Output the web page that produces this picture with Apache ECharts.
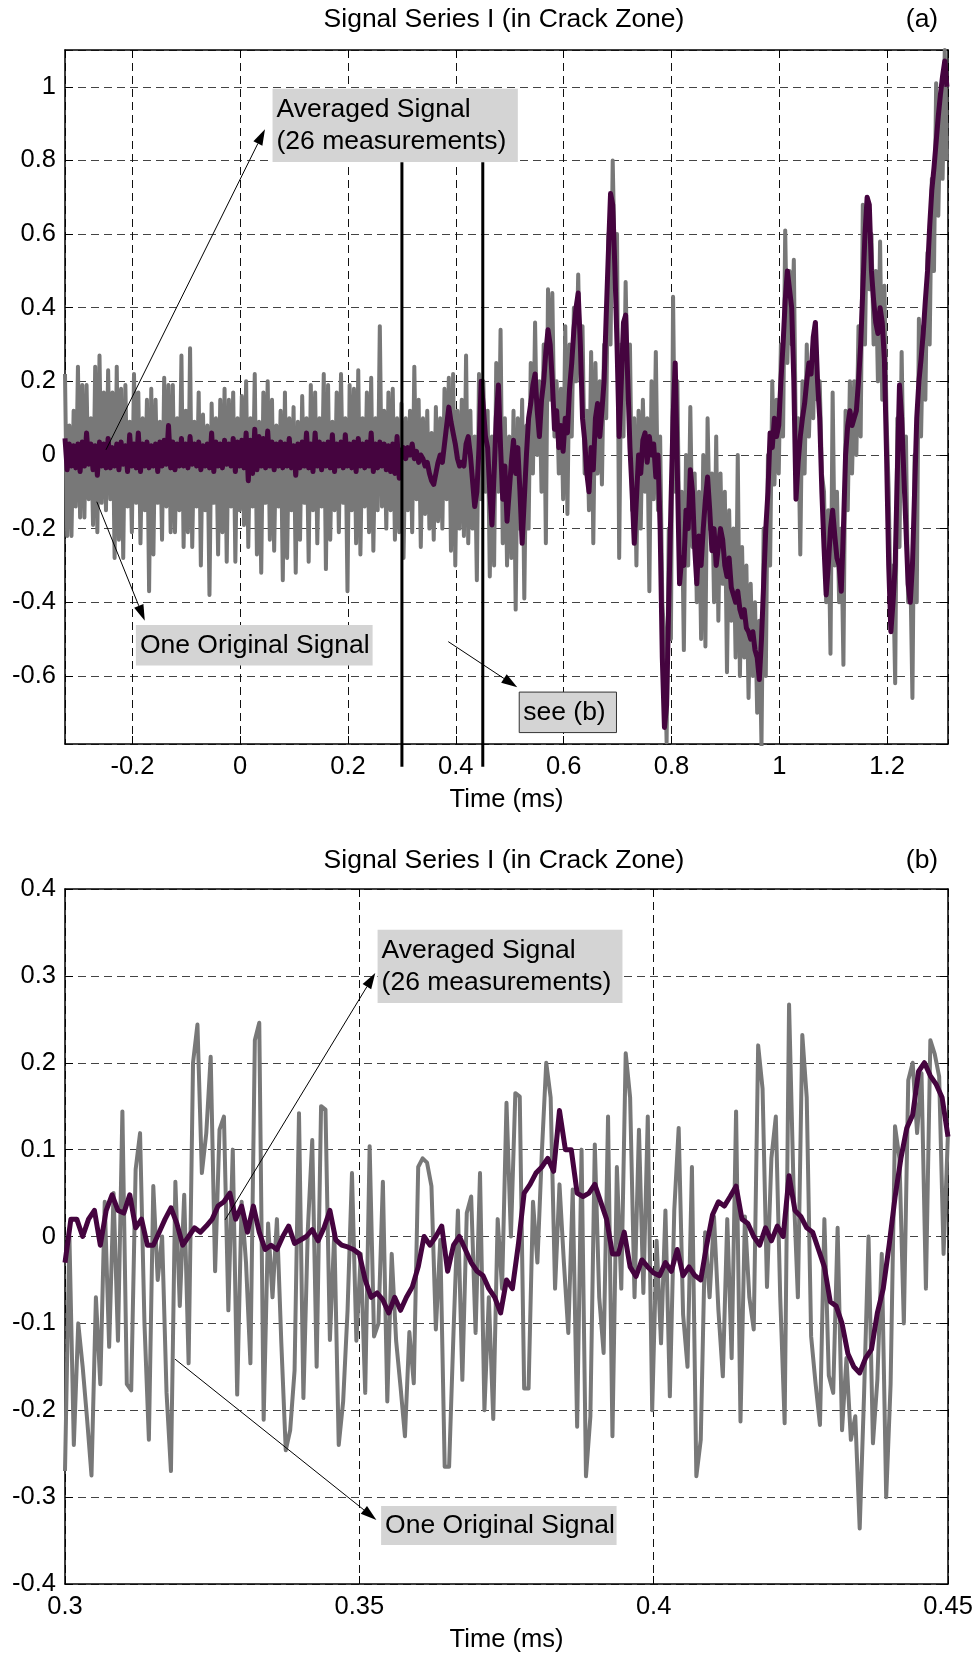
<!DOCTYPE html>
<html>
<head>
<meta charset="utf-8">
<title>Signal Series I (in Crack Zone)</title>
<script src="https://cdn.jsdelivr.net/npm/echarts@6/dist/echarts.min.js"></script>
<style>
html, body { margin: 0; padding: 0; background: #fff; }
#main { width: 980px; height: 1655px; }
</style>
</head>
<body>
<div id="main"></div>
<script>
var FONT = 'Liberation Sans, Arial, sans-serif';

// (a) whole record, one sample every 0.004 ms from -0.325 ms
var startA = -0.325, stepA = 0.004;
var grayA = [
  // -0.325 .. 0.295 (noise before the crack zone)
  .22,-.22, .08,-.22, .12,-.14, .24,-.17, .19,-.17, .19,-.12, .1,-.19, .24,-.21, .27,-.13, .17,-.15,
  .23,-.12, .17,-.28, .24,-.23, .18,-.28, .19,-.14, .09,-.21, .22,-.13, .17,-.24, .1,-.15, .15,-.37,
  .18,-.27, .15,-.13, .09,-.23, .21,-.14, .19,-.21, .19,-.21, .1,-.15, .27,-.25, .12,-.21, .29,-.25,
  .09,-.14, .17,-.3, .11,-.15, .08,-.38, .14,-.13, .1,-.27, .15,-.21, .18,-.29, .15,-.14, .17,-.29,
  .1,-.15, .16,-.19, .2,-.25, .1,-.14, .22,-.27, .09,-.32, .17,-.13, .2,-.23, .15,-.26, .08,-.14,
  .12,-.34, .17,-.28, .1,-.15, .13,-.32, .09,-.23, .16,-.13, .1,-.29, .19,-.15, .17,-.24, .1,-.14,
  .22,-.31, .19,-.23, .09,-.15, .17,-.21, .22,-.13, .1,-.37, .19,-.15, .18,-.24, .23,-.27, .1,-.14,
  .17,-.21, .21,-.26, .1,-.15, .35,-.14, .12,-.2, .17,-.15, .18,-.23, .1,-.21,
  // 0.299 .. 1.311
  0.14,-0.28, 0.1,-0.15, 0.12,-0.21, 0.24,-0.12, 0.15,-0.25,
  0.1,-0.16, 0.12,-0.2, 0.06,-0.23, 0.13,-0.18, 0.1,-0.2,
  0.18,-0.12, 0.21,-0.26, 0.22,-0.3, 0.12,-0.2, 0.15,-0.22,
  0.27,-0.24, 0.12,-0.2, 0.05,-0.34, 0.22,-0.12, 0.2,-0.1,
  0.12,-0.33, 0.05,-0.3, 0.25,-0.1, 0.34,-0.24, 0.1,-0.3,
  0.05,-0.28, 0.12,-0.42, 0.1,-0.2, 0.15,-0.39, 0.08,-0.2,
  0.25,-0.05, 0.36,0.0, 0.2,-0.1, 0.3,-0.24, 0.45,0.15,
  0.44,0.05, 0.2,-0.05, 0.18,-0.12, 0.35,-0.16, 0.3,0.05,
  0.4,0.2, 0.49,0.2, 0.35,-0.05, 0.12,-0.15, 0.28,-0.24,
  0.25,-0.05, 0.2,-0.08, 0.3,0.1, 0.6,0.3, 0.8,0.5,
  0.6,-0.28, 0.3,0.05, 0.47,0.15, 0.3,-0.15, 0.1,-0.3,
  0.12,-0.2, 0.15,-0.1, 0.1,-0.37, 0.2,-0.12, 0.28,-0.15,
  0.05,-0.4, -0.5,-0.78, -0.2,-0.5, 0.43,-0.1, 0.2,-0.3,
  -0.1,-0.53, 0.0,-0.3, 0.13,-0.25, -0.05,-0.4, -0.1,-0.5,
  0.0,-0.52, 0.1,-0.2, -0.05,-0.4, 0.05,-0.45, -0.05,-0.35,
  -0.1,-0.59, -0.15,-0.45, -0.2,-0.55, 0.0,-0.6, -0.25,-0.55,
  -0.3,-0.66, -0.35,-0.6, -0.4,-0.7, -0.45,-0.79, -0.2,-0.6,
  0.0,-0.3, 0.2,-0.08, 0.15,-0.05, 0.3,0.05, 0.61,0.25,
  0.5,0.3, 0.53,0.0, 0.1,-0.27, 0.2,-0.05, 0.3,0.05,
  0.25,0.1, 0.36,0.15, 0.2,-0.05, -0.1,-0.4, -0.15,-0.54,
  0.17,-0.3, -0.1,-0.4, -0.2,-0.57, 0.12,-0.15, 0.2,-0.05,
  0.2,0.0, 0.35,0.05, 0.68,0.3, 0.7,0.45, 0.6,0.3,
  0.5,0.2, 0.58,0.15, 0.46,0.1, -0.1,-0.45, -0.3,-0.62,
  0.1,-0.25, 0.28,-0.1, 0.05,-0.4, -0.3,-0.66, 0.0,-0.4,
  0.37,0.05, 0.35,0.15, 0.55,0.3, 0.75,0.5, 1.01,0.65,
  0.95,0.75, 1.1,0.8
];
var purpleA = [
  .045,-.04, .03,-.03, .025,-.035, .03,-.045, .035,-.03, .06,-.025, .03,-.04, .025,-.055, .035,-.03, .03,-.035,
  .045,-.035, .02,-.03, .03,-.04, .035,-.025, .025,-.045, .055,-.03, .03,-.035, .06,-.045, .03,-.03, .035,-.035,
  .025,-.03, .03,-.045, .035,-.03, .04,-.025, .08,-.035, .035,-.04, .03,-.03, .045,-.03, .03,-.035, .05,-.025,
  .03,-.03, .035,-.04, .025,-.03, .03,-.035, .06,-.045, .035,-.03, .03,-.035, .04,-.025, .03,-.03, .045,-.045,
  .035,-.03, .04,-.035, .06,-.07, .04,-.05, .07,-.04, .05,-.03, .045,-.035, .065,-.03, .035,-.04, .03,-.03,
  .035,-.035, .03,-.03, .045,-.035, .025,-.055, .03,-.035, .035,-.03, .06,-.035, .03,-.045, .06,-.03, .035,-.04,
  .03,-.03, .035,-.035, .055,-.045, .03,-.03, .035,-.035, .055,-.03, .03,-.035, .035,-.045, .045,-.03, .03,-.035,
  .035,-.03, .06,-.045, .03,-.035, .035,-.03, .03,-.04, .025,-.045, .03,-.05, .05,-.063,
  0.01, 0.02, -0.01, 0.02, 0.0, 0.03, -0.01, 0.01, -0.02, 0.0,
  -0.01, -0.03, -0.02, -0.05, -0.07, -0.08, -0.05, -0.02, 0.0, -0.02,
  0.03, 0.08, 0.13, 0.09, 0.06, 0.03, -0.01, -0.03, -0.02, -0.03,
  0.03, 0.05, 0.0, -0.07, -0.14, -0.1, 0.02, 0.2, 0.13, 0.05,
  0.02, -0.1, -0.19, -0.05, 0.1, 0.19, 0.02, -0.12, -0.03, -0.18,
  -0.1, -0.02, 0.04, -0.05, 0.02, -0.1, -0.24, -0.12, 0.0, 0.1,
  0.14, 0.19, 0.22, 0.12, 0.05, 0.15, 0.2, 0.28, 0.34, 0.3,
  0.2, 0.07, 0.12, 0.02, 0.08, 0.01, 0.1, 0.06, 0.18, 0.25,
  0.34, 0.4, 0.44, 0.3, 0.1, 0.04, -0.05, -0.1, 0.02, -0.04,
  0.1, 0.14, 0.05, 0.12, 0.2, 0.38, 0.55, 0.71, 0.68, 0.51,
  0.3, 0.05, 0.2, 0.36, 0.38, 0.2, 0.02, -0.1, -0.24, -0.12,
  0.0, -0.05, 0.04, 0.06, -0.02, 0.05, 0.0, 0.03, -0.06, 0.0,
  -0.2, -0.55, -0.74, -0.68, -0.4, -0.14, 0.1, 0.25, -0.05, -0.35,
  -0.28, -0.3, -0.15, -0.2, -0.04, -0.1, -0.25, -0.35, -0.22, -0.3,
  -0.2, -0.12, -0.06, -0.15, -0.26, -0.2, -0.3, -0.25, -0.2, -0.23,
  -0.3, -0.33, -0.28, -0.36, -0.38, -0.4, -0.37, -0.42, -0.44, -0.42,
  -0.47, -0.48, -0.5, -0.48, -0.53, -0.55, -0.61, -0.5, -0.35, -0.2,
  -0.1, 0.06, 0.02, 0.1, 0.05, 0.08, 0.2, 0.3, 0.42, 0.5,
  0.45, 0.4, 0.2, -0.12, -0.02, 0.05, 0.1, 0.14, 0.2, 0.25,
  0.22, 0.32, 0.36, 0.2, 0.1, -0.1, -0.25, -0.38, -0.3, -0.2,
  -0.15, -0.22, -0.28, -0.3, -0.37, -0.2, 0.0, 0.08, 0.12, 0.08,
  0.1, 0.12, 0.2, 0.3, 0.45, 0.6, 0.7, 0.68, 0.5, 0.42,
  0.36, 0.33, 0.4, 0.36, 0.26, 0.0, -0.3, -0.48, -0.4, -0.3,
  -0.05, 0.19, 0.1, -0.05, -0.2, -0.35, -0.4, -0.3, -0.1, 0.1,
  0.2, 0.26, 0.33, 0.42, 0.5, 0.62, 0.72, 0.78, 0.85, 0.92,
  0.98, 1.03, 1.07, 1.0
];

// (b) window 0.3 .. 0.45 ms
var startB = 0.3, stepGrayB = 0.00075, stepPurpleB = 0.001;
var grayB = [
  -0.27, 0.0, -0.24, -0.1, -0.15, -0.21, -0.275, -0.07, -0.17, 0.04,
  -0.127, 0.05, -0.12, 0.144, -0.17, -0.177, 0.077, 0.119, -0.1, -0.234,
  0.058, -0.05, 0.0, -0.18, -0.27, 0.063, -0.08, 0.048, -0.146, 0.2,
  0.244, 0.073, 0.119, 0.207, -0.04, 0.123, 0.138, -0.085, 0.1, -0.182,
  0.04, -0.03, -0.146, 0.226, 0.246, -0.211, 0.015, -0.07, 0.02, -0.123,
  -0.246, -0.223, -0.154, 0.142, -0.186, 0.008, 0.111, -0.15, 0.15, 0.146,
  -0.119, 0.005, -0.24, -0.19, -0.085, 0.073, -0.12, -0.02, -0.18, 0.104,
  -0.115, -0.1, 0.063, -0.19, -0.02, -0.12, -0.173, -0.23, -0.11, -0.169,
  0.08, 0.09, 0.085, 0.058, -0.107, -0.004, -0.265, -0.265, -0.11, 0.03,
  -0.165, 0.027, 0.046, -0.111, 0.073, -0.2, -0.07, -0.21, 0.02, -0.06,
  0.154, 0.0, 0.165, 0.161, -0.175, -0.175, 0.04, -0.03, 0.096, 0.2,
  0.16, -0.06, 0.06, -0.03, -0.111, 0.054, -0.219, 0.1, -0.276, -0.207,
  0.106, -0.07, -0.134, 0.138, -0.23, 0.08, -0.06, 0.211, 0.16, -0.07,
  0.123, -0.065, 0.138, -0.2, -0.005, -0.123, 0.03, -0.184, 0.03, 0.125,
  -0.09, -0.15, 0.08, -0.276, -0.234, 0.005, -0.07, 0.023, -0.085, -0.161,
  0.02, -0.14, 0.144, -0.213, 0.023, -0.07, -0.107, 0.22, 0.17, -0.058,
  0.09, 0.138, -0.07, -0.215, 0.267, 0.06, -0.07, 0.232, 0.16, -0.115,
  -0.169, -0.217, 0.02, -0.16, -0.18, 0.01, -0.223, -0.14, -0.234, -0.207,
  -0.336, -0.18, 0.0, -0.238, -0.165, -0.02, -0.3, -0.17, 0.127, 0.09,
  -0.1, 0.18, 0.2, 0.119, 0.188, -0.06, 0.226, 0.21, 0.184, -0.02,
  0.12
];
var purpleB = [
  -0.03, 0.02, 0.02, 0.0, 0.02, 0.03, -0.01, 0.03, 0.048, 0.03,
  0.027, 0.048, 0.01, 0.02, -0.01, -0.01, 0.005, 0.02, 0.033, 0.015,
  -0.01, 0.0, 0.01, 0.005, 0.012, 0.02, 0.035, 0.04, 0.05, 0.02,
  0.035, 0.005, 0.035, 0.005, -0.015, -0.01, -0.015, 0.0, 0.012, -0.008,
  -0.004, 0.0, 0.008, -0.005, 0.01, 0.03, -0.004, -0.01, -0.012, -0.015,
  -0.02, -0.05, -0.07, -0.065, -0.073, -0.088, -0.07, -0.085, -0.07, -0.058,
  -0.035, 0.0, -0.01, 0.0, 0.012, -0.04, -0.01, 0.0, -0.015, -0.03,
  -0.04, -0.045, -0.06, -0.07, -0.088, -0.05, -0.06, -0.01, 0.05, 0.06,
  0.073, 0.08, 0.09, 0.075, 0.145, 0.1, 0.1, 0.05, 0.046, 0.05,
  0.06, 0.04, 0.02, -0.02, -0.02, 0.005, -0.035, -0.046, -0.027, -0.035,
  -0.042, -0.045, -0.03, -0.04, -0.015, -0.045, -0.035, -0.045, -0.05, -0.01,
  0.025, 0.04, 0.035, 0.046, 0.058, 0.02, 0.015, 0.0, -0.01, 0.01,
  -0.005, 0.012, 0.0, 0.07, 0.03, 0.023, 0.01, 0.005, -0.015, -0.035,
  -0.075, -0.08, -0.1, -0.135, -0.15, -0.157, -0.14, -0.13, -0.088, -0.06,
  -0.01, 0.045, 0.09, 0.125, 0.14, 0.19, 0.2, 0.185, 0.175, 0.16,
  0.115
];

var xRangeA = [-0.325, 1.313], yRangeA = [-0.785, 1.1];
var xRangeB = [0.3, 0.45], yRangeB = [-0.4, 0.4];
var xStepA = 0.2, yStepA = 0.2, xStepB = 0.05, yStepB = 0.1;
var markerTimes = [0.3, 0.45];
var titleText = 'Signal Series I (in Crack Zone)';
var axisName = 'Time (ms)';

var GRAY = '#787878', PURPLE = '#45043f';

function toPairs(start, step, values) {
  return values.map(function (v, i) {
    return [+(start + step * i).toFixed(5), v];
  });
}

function makeX(gridIndex, range, step, position, edgeLabels) {
  var main = position === 'bottom';
  return {
    type: 'value', gridIndex: gridIndex, position: position,
    min: range[0], max: range[1], minInterval: step, maxInterval: step,
    name: main ? axisName : '', nameLocation: 'middle', nameGap: 43,
    nameTextStyle: { color: '#000', fontSize: 25.5, fontFamily: FONT },
    axisLine: { show: true, onZero: false, lineStyle: { color: '#000', width: 1.5 } },
    axisTick: { show: true, inside: true, length: 8, lineStyle: { color: '#000' } },
    axisLabel: {
      show: main, color: '#000', fontSize: 25.5, fontFamily: FONT, margin: 10,
      showMinLabel: edgeLabels, showMaxLabel: edgeLabels
    },
    splitLine: { show: main, lineStyle: { color: '#111', width: 1, type: [8, 5] } }
  };
}

function makeY(gridIndex, range, step, position, edgeLabels) {
  var main = position === 'left';
  return {
    type: 'value', gridIndex: gridIndex, position: position,
    min: range[0], max: range[1], minInterval: step, maxInterval: step,
    axisLine: { show: true, onZero: false, lineStyle: { color: '#000', width: 1.5 } },
    axisTick: { show: true, inside: true, length: 8, lineStyle: { color: '#000' } },
    axisLabel: {
      show: main, color: '#000', fontSize: 25.5, fontFamily: FONT, margin: 9,
      showMinLabel: edgeLabels, showMaxLabel: edgeLabels
    },
    splitLine: { show: main, lineStyle: { color: '#444', width: 1, type: [8, 5] } }
  };
}

function lineSeries(axisIndex, data, color, width, z) {
  return {
    type: 'line', xAxisIndex: axisIndex, yAxisIndex: axisIndex,
    data: data, showSymbol: false, symbol: 'none', silent: true, z: z,
    itemStyle: { color: color },
    lineStyle: { color: color, width: width, join: 'round' }
  };
}

var chart = echarts.init(document.getElementById('main'), null, { renderer: 'canvas' });

var option = {
  animation: false,
  backgroundColor: '#fff',
  grid: [
    { left: 65, top: 50, width: 883, height: 694 },
    { left: 65, top: 889, width: 883, height: 695 }
  ],
  xAxis: [
    makeX(0, xRangeA, xStepA, 'bottom', false),
    makeX(0, xRangeA, xStepA, 'top', false),
    makeX(1, xRangeB, xStepB, 'bottom', true),
    makeX(1, xRangeB, xStepB, 'top', true)
  ],
  yAxis: [
    makeY(0, yRangeA, yStepA, 'left', false),
    makeY(0, yRangeA, yStepA, 'right', false),
    makeY(1, yRangeB, yStepB, 'left', true),
    makeY(1, yRangeB, yStepB, 'right', true)
  ],
  series: [
    lineSeries(0, toPairs(startA, stepA, grayA), GRAY, 4, 2),
    lineSeries(0, toPairs(startA, stepA, purpleA), PURPLE, 5, 3),
    lineSeries(2, toPairs(startB, stepGrayB, grayB), GRAY, 4, 2),
    lineSeries(2, toPairs(startB, stepPurpleB, purpleB), PURPLE, 5, 3)
  ]
};
chart.setOption(option);

// annotations, placed in data coordinates of each panel
function pt(panel, t, v) {
  return chart.convertToPixel({ xAxisIndex: panel * 2, yAxisIndex: panel * 2 }, [t, v]);
}

function box(panel, c1, c2, text, bordered) {
  var p1 = pt(panel, c1[0], c1[1]), p2 = pt(panel, c2[0], c2[1]);
  return [{
    type: 'rect', z: 100,
    shape: { x: p1[0], y: p1[1], width: p2[0] - p1[0], height: p2[1] - p1[1] },
    style: { fill: '#d4d4d4', stroke: bordered ? '#333' : null, lineWidth: 1 }
  }, {
    type: 'text', z: 101, x: p1[0] + 4, y: (p1[1] + p2[1]) / 2,
    style: {
      text: text, fill: '#000', fontSize: 26.5, fontFamily: FONT,
      verticalAlign: 'middle', align: 'left', lineHeight: 32
    }
  }];
}

function arrow(panel, from, to) {
  var a = pt(panel, from[0], from[1]), b = pt(panel, to[0], to[1]);
  var dx = b[0] - a[0], dy = b[1] - a[1];
  var len = Math.sqrt(dx * dx + dy * dy), ux = dx / len, uy = dy / len;
  var hl = 16, hw = 5;
  var bx = b[0] - ux * hl, by = b[1] - uy * hl;
  return [{
    type: 'line', z: 100,
    shape: { x1: a[0], y1: a[1], x2: bx, y2: by },
    style: { stroke: '#000', lineWidth: 1 }
  }, {
    type: 'polygon', z: 100,
    shape: { points: [[b[0], b[1]], [bx - uy * hw, by + ux * hw], [bx + uy * hw, by - ux * hw]] },
    style: { fill: '#000' }
  }];
}

function label(x, y, text) {
  return {
    type: 'text', z: 101, x: x, y: y,
    style: { text: text, fill: '#000', fontSize: 26.5, fontFamily: FONT, align: 'center', verticalAlign: 'middle' }
  };
}

var g = [];
// panel (a)
markerTimes.forEach(function (t) {
  var top = pt(0, t, 0.795), bottom = pt(0, t, -0.847);
  g.push({
    type: 'line', z: 99,
    shape: { x1: top[0], y1: top[1], x2: bottom[0], y2: bottom[1] },
    style: { stroke: '#000', lineWidth: 3 }
  });
});
g = g.concat(box(0, [0.06, 0.995], [0.515, 0.796], 'Averaged Signal\n(26 measurements)', false));
g = g.concat(arrow(0, [-0.249, 0.014], [0.046, 0.885]));
g = g.concat(box(0, [-0.1935, -0.4616], [0.2456, -0.572], 'One Original Signal', false));
g = g.concat(arrow(0, [-0.266, -0.127], [-0.177, -0.45]));
g = g.concat(box(0, [0.5176, -0.644], [0.698, -0.754], 'see (b)', true));
g = g.concat(arrow(0, [0.386, -0.507], [0.514, -0.631]));
// panel (b)
g = g.concat(box(1, [0.3531, 0.3532], [0.3947, 0.2688], 'Averaged Signal\n(26 measurements)', false));
g = g.concat(arrow(1, [0.3272, 0.0192], [0.3527, 0.3033]));
g = g.concat(box(1, [0.3537, -0.3101], [0.3937, -0.355], 'One Original Signal', false));
g = g.concat(arrow(1, [0.3187, -0.1412], [0.3529, -0.3262]));
// titles
g.push(label(504, 20, titleText));
g.push(label(922, 20, '(a)'));
g.push(label(504, 861, titleText));
g.push(label(922, 861, '(b)'));

chart.setOption({ graphic: g });
window.onresize = chart.resize;
</script>
</body>
</html>
